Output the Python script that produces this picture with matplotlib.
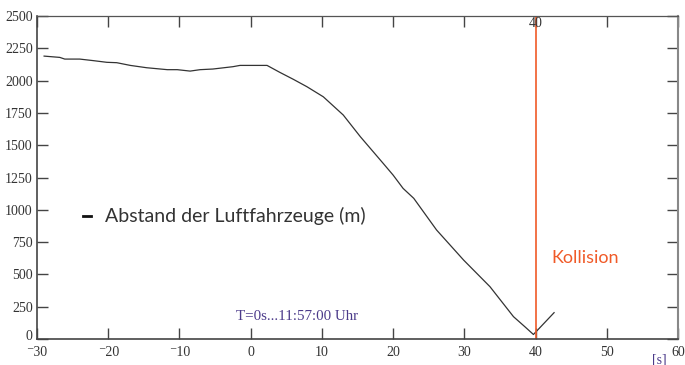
import matplotlib.pyplot as plt
import matplotlib.transforms as mtransforms

# Zeit relativ zu T=0 (s) und Abstand (m)
zeit = [-29, -26.8, -26.1, -24, -22.1, -20.2, -18.8, -16.9, -14.6, -11.7, -10.3, -8.5, -7.1,
        -5.3, -2.5, -1.5, 0, 2.3, 4.1, 6, 7.9, 10.2, 13.0, 15.4, 18.6, 20.0, 21.4, 22.9,
        26.1, 29.9, 33.6, 36.9, 38.5, 39.7, 42.6]
abstand = [2190, 2180, 2167, 2167, 2155, 2142, 2139, 2118, 2100, 2085, 2085, 2074, 2085,
           2090, 2108, 2118, 2118, 2118, 2064, 2010, 1953, 1875, 1734, 1566, 1360, 1269, 1166, 1089,
           844, 611, 405, 173, 95, 35, 204]
kollision_t = 40

xticks = [-30, -20, -10, 0, 10, 20, 30, 40, 50, 60]
xlabels = ['\u207b30', '\u207b20', '\u207b10', '0', '10', '20', '30', '40', '50', '60']
yticks = list(range(0, 2501, 250))

serif = ['Liberation Serif', 'DejaVu Serif']
sans = ['Lato', 'DejaVu Sans']

fig = plt.figure(figsize=(6.85, 3.65), dpi=100)
ax = fig.add_axes([0.054, 0.0712, 0.9358, 0.8848])

ax.plot(zeit, abstand, color='#333333', lw=0.9, label='Abstand der Luftfahrzeuge (m)')
ax.axvline(kollision_t, color='#f05a28', lw=1.2)

ax.set_xlim(-30, 60)
ax.set_ylim(0, 2500)
ax.set_xticks(xticks)
ax.set_xticklabels(xlabels, family=serif, fontsize=10, color='#333333')
ax.set_yticks(yticks)
ax.set_yticklabels([str(v) for v in yticks], family=serif, fontsize=10, color='#333333')
ax.tick_params(direction='in', length=8, width=1, color='#444444', top=True, right=True, pad=3)
ax.tick_params(axis='x', pad=5)

# die Null links leicht anheben, damit sie nicht in die -30 ragt
null = ax.get_yticklabels()[0]
null.set_transform(null.get_transform() + mtransforms.ScaledTranslation(0, 3 / 72, fig.dpi_scale_trans))

for s in ['left', 'bottom']:
    ax.spines[s].set_color('#444444')
    ax.spines[s].set_linewidth(1.2)
ax.spines['top'].set_color('#555555')
ax.spines['top'].set_linewidth(0.9)
ax.spines['right'].set_color('#888888')
ax.spines['right'].set_linewidth(1.5)

ax.text(kollision_t, 2440, '40', family=serif, fontsize=10, color='#333333', ha='center', va='center')
ax.text(42.2, 630, 'Kollision', family=sans, fontsize=13, color='#f05a28', ha='left', va='center')
ax.text(-2, 175, 'T=0s...11:57:00 Uhr', family=serif, fontsize=10.8, color='#4b3a8a', ha='left', va='center')
fig.text(0.952, 0.015, '[s]', family=serif, fontsize=10, color='#4b3a8a', ha='left', va='center')

leg = ax.legend(loc='center left', bbox_to_anchor=(0.045, 0.38), frameon=False,
                handlelength=0.4, handletextpad=0.7,
                prop={'family': sans, 'size': 14})
for h in leg.get_lines():
    h.set_linewidth(2)
    h.set_color('#111111')
for t in leg.get_texts():
    t.set_color('#333333')

fig.savefig('out.png', dpi=100)
